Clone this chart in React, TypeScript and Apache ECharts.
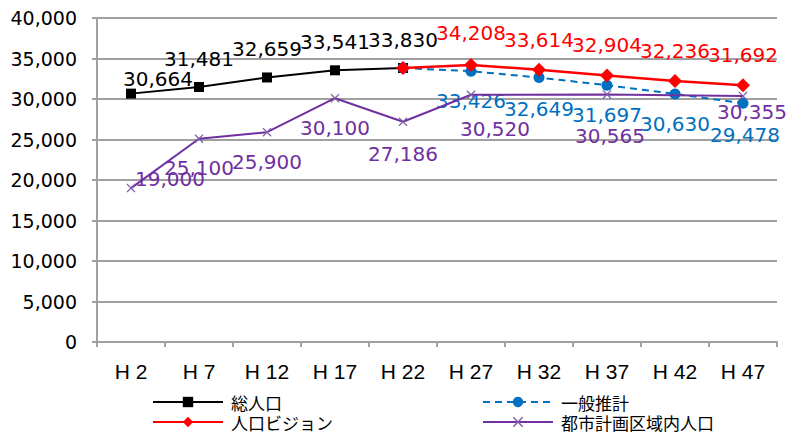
import React, { useEffect, useRef } from "react";
import * as echarts from "echarts";

const categories = ["H 2", "H 7", "H 12", "H 17", "H 22", "H 27", "H 32", "H 37", "H 42", "H 47"];
const totalPop = [30664, 31481, 32659, 33541, 33830, null, null, null, null, null];
const generalEst = [null, null, null, null, 33830, 33426, 32649, 31697, 30630, 29478];
const visionPop = [null, null, null, null, 33830, 34208, 33614, 32904, 32236, 31692];
const urbanPop = [19000, 25100, 25900, 30100, 27186, 30520, null, 30565, null, 30355];

const seriesNames = ["総人口", "一般推計", "人口ビジョン", "都市計画区域内人口"];

// label offsets (styling), null = no label
const totalOff: (number[] | null)[] = [[27, -15], [0, -28], [0, -28], [0, -28], [0, -28], null, null, null, null, null];
const generalOff: (number[] | null)[] = [null, null, null, null, null, [0, 30], [0, 31], [0, 30], [0, 30], [2, 32]];
const visionOff: (number[] | null)[] = [null, null, null, null, null, [0, -32], [0, -30], [0, -30], [0, -30], [0, -30]];
const urbanOff: (number[] | null)[] = [[39, -9], [0, 29], [0, 30], [0, 30], [0, 32], [24, 34], null, [3, 42], null, [9, 16]];

const fmt = (v: number) => v.toString().replace(/\B(?=(\d{3})+(?!\d))/g, ",");

function build(values: (number | null)[], offs: (number[] | null)[], color: string) {
  return values.map((v, i) => {
    const o = offs[i];
    return {
      value: v,
      label: o
        ? {
            show: true,
            position: "inside",
            offset: o,
            color,
            fontFamily: "DejaVu Sans",
            fontSize: 20,
            formatter: (p: any) => fmt(p.value),
          }
        : { show: false },
    };
  });
}

const crossPath = "path://M0,1L1,0L5,4L9,0L10,1L6,5L10,9L9,10L5,6L1,10L0,9L4,5Z";

export default function App() {
  const ref = useRef<HTMLDivElement>(null);
  useEffect(() => {
    if (!ref.current) return;
    const chart = echarts.init(ref.current, undefined, { renderer: "svg" });
    const gridColor = "#a0a0a0";
    const legendText = { fontFamily: "Noto Sans CJK JP", fontSize: 17, color: "#000", lineHeight: 18, padding: [0, 0, 0, 3] };
    const mkLegend = (name: string, left: number, top: number) => ({
      data: [name],
      orient: "horizontal",
      left,
      top,
      itemWidth: 70,
      itemHeight: 13,
      padding: 0,
      textStyle: legendText,
    });
    chart.setOption({
      animation: false,
      backgroundColor: "#ffffff",
      grid: { left: 97, right: 10, top: 18, bottom: 90, containLabel: false },
      xAxis: {
        type: "category",
        data: categories,
        boundaryGap: true,
        axisLine: { show: true, lineStyle: { color: gridColor, width: 2 } },
        axisTick: { show: true, length: 5, alignWithLabel: false, lineStyle: { color: gridColor, width: 2 } },
        axisLabel: { color: "#000", fontFamily: "Liberation Sans", fontSize: 21, margin: 19, interval: 0 },
        splitLine: { show: false },
      },
      yAxis: {
        type: "value",
        min: 0,
        max: 40000,
        interval: 5000,
        axisLine: { show: true, lineStyle: { color: gridColor, width: 2 } },
        axisTick: { show: true, length: 5, lineStyle: { color: gridColor, width: 2 } },
        axisLabel: { color: "#000", fontFamily: "DejaVu Sans", fontSize: 19, margin: 20, formatter: (v: number) => fmt(v) },
        splitLine: { show: true, lineStyle: { color: gridColor, width: 2 } },
      },
      legend: [
        mkLegend(seriesNames[0], 152, 393),
        mkLegend(seriesNames[2], 152, 413),
        mkLegend(seriesNames[1], 482, 393),
        mkLegend(seriesNames[3], 482, 413),
      ],
      series: [
        {
          name: seriesNames[0],
          type: "line",
          data: build(totalPop, totalOff, "#000000"),
          symbol: "rect",
          symbolSize: 10,
          z: 2,
          lineStyle: { color: "#000000", width: 2 },
          itemStyle: { color: "#000000" },
        },
        {
          name: seriesNames[1],
          type: "line",
          data: build(generalEst, generalOff, "#0070C0"),
          symbol: "circle",
          symbolSize: 11,
          z: 3,
          lineStyle: { color: "#0070C0", width: 2, type: [7, 5] },
          itemStyle: { color: "#0070C0" },
        },
        {
          name: seriesNames[2],
          type: "line",
          data: build(visionPop, visionOff, "#FF0000"),
          symbol: "diamond",
          symbolSize: 14,
          z: 5,
          lineStyle: { color: "#FF0000", width: 2.5 },
          itemStyle: { color: "#FF0000" },
        },
        {
          name: seriesNames[3],
          type: "line",
          data: build(urbanPop, urbanOff, "#7030A0"),
          symbol: crossPath,
          symbolSize: 9,
          connectNulls: true,
          z: 4,
          lineStyle: { color: "#7030A0", width: 2 },
          itemStyle: { color: "#7F5FA8" },
        },
      ],
    });
    return () => chart.dispose();
  }, []);
  return (
    <div
      ref={ref}
      style={{ position: "fixed", left: 0, top: 0, width: 787, height: 432, background: "#fff" }}
    />
  );
}
